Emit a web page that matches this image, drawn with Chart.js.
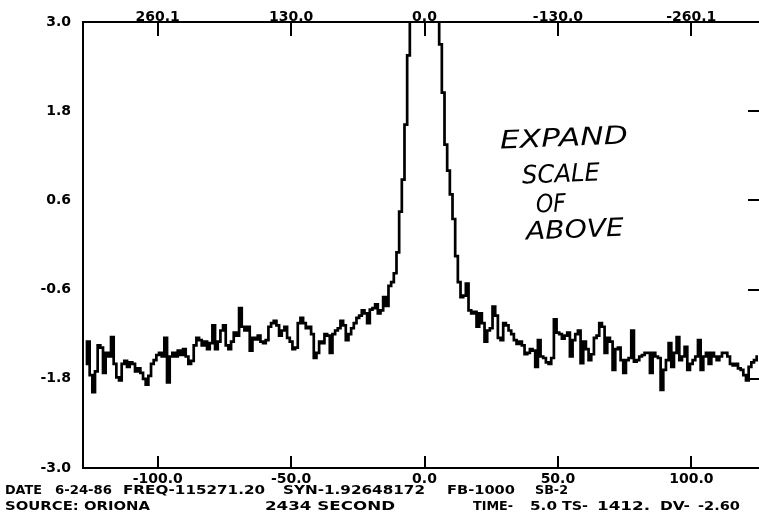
<!DOCTYPE html>
<html>
<head>
<meta charset="utf-8">
<script src="https://cdn.jsdelivr.net/npm/chart.js@4"></script>
<style>
  html, body { margin: 0; padding: 0; background: #fff; overflow: hidden; }
  #wrap { width: 768px; height: 527px; }
</style>
</head>
<body>
<div id="wrap"><canvas id="spectrum" width="768" height="527"></canvas></div>
<script>
// channel offsets (MHz) start here, one value per channel
const firstChannel = -127;
const antennaTemp = [
  -1.6, -1.3, -1.75, -1.98, -1.7, -1.35, -1.38, -1.72, -1.45, -1.5,
  -1.24, -1.6, -1.78, -1.82, -1.6, -1.56, -1.64, -1.58, -1.6, -1.7,
  -1.66, -1.72, -1.8, -1.88, -1.76, -1.6, -1.55, -1.48, -1.45, -1.5,
  -1.25, -1.85, -1.5, -1.45, -1.5, -1.42, -1.48, -1.4, -1.5, -1.6,
  -1.56, -1.35, -1.25, -1.28, -1.35, -1.3, -1.4, -1.32, -1.08, -1.4,
  -1.3, -1.15, -1.08, -1.35, -1.4, -1.3, -1.18, -1.22, -0.85, -1.1,
  -1.15, -1.1, -1.42, -1.25, -1.27, -1.22, -1.3, -1.32, -1.28, -1.1,
  -1.05, -1.02, -1.08, -1.22, -1.15, -1.1, -1.25, -1.3, -1.4, -1.38,
  -1.05, -0.98, -1.05, -1.12, -1.1, -1.2, -1.52, -1.45, -1.3, -1.32,
  -1.2, -1.22, -1.45, -1.2, -1.15, -1.12, -1.02, -1.08, -1.28, -1.2,
  -1.12, -1.05, -0.98, -0.95, -0.88, -0.92, -1.05, -0.87, -0.85, -0.8,
  -0.92, -0.88, -0.7, -0.82, -0.55, -0.5, -0.38, -0.1, 0.45, 0.88,
  1.62, 2.55, 3.8, 5.5, 7.0, 8.2, 8.8, 9.0, 8.6, 7.8,
  6.5, 5.0, 3.8, 2.7, 2.05, 1.35, 1.0, 0.68, 0.35, -0.15,
  -0.5, -0.7, -0.68, -0.52, -0.88, -0.92, -0.9, -1.1, -0.92, -1.05,
  -1.3, -1.15, -1.12, -0.83, -0.95, -1.25, -1.28, -1.05, -1.08, -1.15,
  -1.2, -1.28, -1.33, -1.3, -1.35, -1.47, -1.45, -1.4, -1.42, -1.64,
  -1.28, -1.5, -1.52, -1.58, -1.6, -1.52, -1.0, -1.18, -1.2, -1.26,
  -1.22, -1.18, -1.5, -1.28, -1.2, -1.15, -1.59, -1.3, -1.4, -1.55,
  -1.47, -1.25, -1.22, -1.05, -1.1, -1.45, -1.25, -1.3, -1.68, -1.4,
  -1.38, -1.55, -1.72, -1.55, -1.52, -1.15, -1.57, -1.55, -1.5, -1.48,
  -1.45, -1.45, -1.72, -1.45, -1.5, -1.52, -1.95, -1.68, -1.55, -1.32,
  -1.64, -1.45, -1.24, -1.55, -1.5, -1.37, -1.68, -1.6, -1.55, -1.5,
  -1.28, -1.68, -1.5, -1.45, -1.6, -1.45, -1.5, -1.55, -1.5, -1.45,
  -1.45, -1.5, -1.6, -1.62, -1.6, -1.66, -1.68, -1.75, -1.82, -1.64,
  -1.58, -1.55, -1.5
];

const xTicks = [-100, -50, 0, 50, 100];
const velocityLabels = ["260.1", "130.0", "0.0", "-130.0", "-260.1"];
const yTicks = [-3.0, -1.8, -0.6, 0.6, 1.8, 3.0];

const footerLine1 = ["DATE", "6-24-86", "FREQ-115271.20", "SYN-1.92648172", "FB-1000", "SB-2"];
const footerLine2 = ["SOURCE: ORIONA", "2434 SECOND", "TIME-", "5.0", "TS-", "1412.", "DV-", "-2.60"];
const noteLines = ["EXPAND", "SCALE", "OF", "ABOVE"];

const printFont = { family: "'DejaVu Sans', sans-serif", weight: "bold", size: 14 };
const printTicks = { font: printFont, color: "#000", maxRotation: 0 };

// draw text squeezed/stretched to a given width (old plotter lettering is wide)
function wideText(ctx, text, x, y, w) {
  const m = ctx.measureText(text).width;
  ctx.save();
  ctx.translate(x, y);
  ctx.scale(w / m, 1);
  ctx.fillText(text, 0, 0);
  ctx.restore();
}

const plotterExtras = {
  id: "plotterExtras",
  afterDraw(chart) {
    const ctx = chart.ctx;
    const xs = chart.scales.x;
    const ys = chart.scales.y;
    const area = chart.chartArea;

    // inward tick marks
    ctx.save();
    ctx.strokeStyle = "#000";
    ctx.lineWidth = 2;
    ctx.beginPath();
    xTicks.forEach(v => {
      const px = Math.round(xs.getPixelForValue(v));
      ctx.moveTo(px, area.bottom);
      ctx.lineTo(px, area.bottom - 12);
      ctx.moveTo(px, area.top);
      ctx.lineTo(px, area.top + 14);
    });
    yTicks.forEach(v => {
      const py = Math.round(ys.getPixelForValue(v));
      ctx.moveTo(area.right, py);
      ctx.lineTo(area.right - 18, py);
    });
    ctx.stroke();
    ctx.restore();

    // header text under the plot
    ctx.save();
    ctx.fillStyle = "#000";
    ctx.font = "bold 13px 'DejaVu Sans', sans-serif";
    ctx.textBaseline = "middle";
    const pos1 = [[5, 37], [55, 57], [123, 142], [283, 142], [447, 68], [535, 33]];
    footerLine1.forEach((t, i) => wideText(ctx, t, pos1[i][0], 491, pos1[i][1]));
    const pos2 = [[5, 145], [265, 130], [473, 40], [530, 27], [562, 26], [597, 53], [660, 30], [698, 42]];
    footerLine2.forEach((t, i) => wideText(ctx, t, pos2[i][0], 507, pos2[i][1]));
    ctx.restore();

    // hand-written note
    ctx.save();
    ctx.fillStyle = "#000";
    ctx.font = "italic 25px 'DejaVu Sans', sans-serif";
    ctx.textBaseline = "middle";
    const notePos = [[500, 142, 128], [522, 177, 78], [536, 206, 30], [526, 233, 98]];
    noteLines.forEach((t, i) => {
      ctx.save();
      ctx.translate(notePos[i][0], notePos[i][1]);
      ctx.rotate(-0.04);
      wideText(ctx, t, 0, 0, notePos[i][2]);
      ctx.restore();
    });
    ctx.restore();
  }
};

const ctx = document.getElementById("spectrum").getContext("2d");
new Chart(ctx, {
  type: "line",
  data: {
    datasets: [{
      label: "T*",
      data: antennaTemp.map((v, i) => ({ x: firstChannel + i, y: v })),
      xAxisID: "x",
      yAxisID: "y",
      stepped: "middle",
      borderColor: "#000",
      borderWidth: 2.7,
      pointRadius: 0,
      fill: false
    }]
  },
  options: {
    responsive: false,
    animation: false,
    layout: { padding: 0 },
    plugins: {
      legend: { display: false },
      tooltip: { enabled: false }
    },
    scales: {
      x: {
        type: "linear",
        position: "bottom",
        min: -128,
        max: 128,
        afterBuildTicks: s => { s.ticks = xTicks.map(v => ({ value: v })); },
        afterFit: s => { s.height = 59; },
        ticks: { ...printTicks, callback: v => v.toFixed(1), padding: 3 },
        grid: { display: false, drawTicks: false },
        border: { color: "#000", width: 2 }
      },
      xTop: {
        type: "linear",
        position: "top",
        min: -128,
        max: 128,
        afterBuildTicks: s => { s.ticks = xTicks.map(v => ({ value: v })); },
        afterFit: s => { s.height = 22; },
        ticks: { ...printTicks, callback: (v, i) => velocityLabels[i], padding: -4 },
        grid: { display: false, drawTicks: false },
        border: { color: "#000", width: 2 }
      },
      y: {
        type: "linear",
        position: "left",
        min: -3,
        max: 3,
        afterBuildTicks: s => { s.ticks = yTicks.map(v => ({ value: v })); },
        afterFit: s => { s.width = 83; },
        ticks: { ...printTicks, callback: v => v.toFixed(1), padding: 12 },
        grid: { display: false, drawTicks: false },
        border: { color: "#000", width: 2 }
      },
      yRight: {
        type: "linear",
        position: "right",
        min: -3,
        max: 3,
        afterFit: s => { s.width = 2; },
        ticks: { display: false },
        grid: { display: false, drawTicks: false },
        border: { color: "#000", width: 2 }
      }
    }
  },
  plugins: [plotterExtras]
});
</script>
</body>
</html>
